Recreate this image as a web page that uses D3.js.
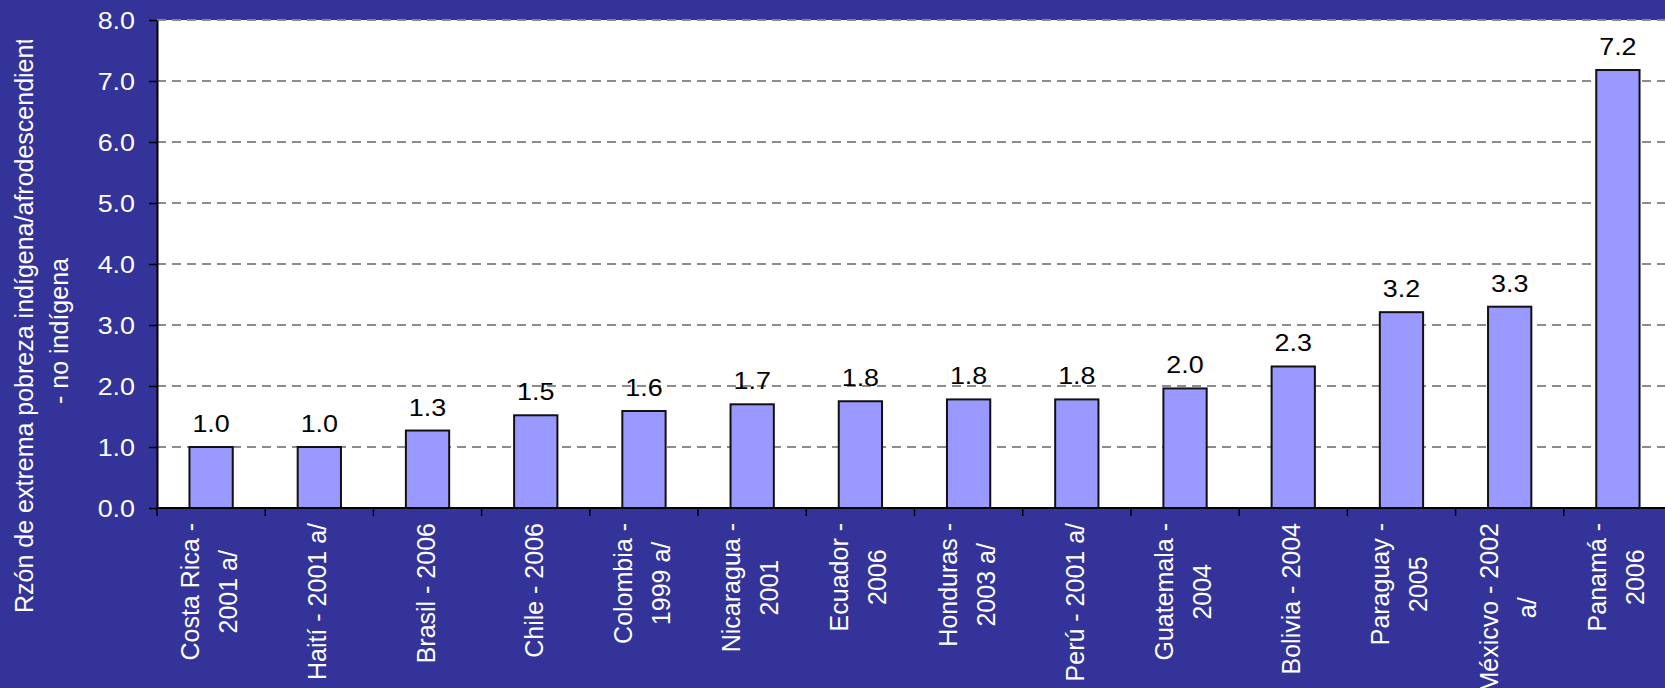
<!DOCTYPE html>
<html>
<head>
<meta charset="utf-8">
<script src="https://cdn.jsdelivr.net/npm/d3@7"></script>
<style>
  html, body { margin: 0; padding: 0; background: #333399; overflow: hidden; }
  text { font-family: "Liberation Sans", Arial, sans-serif; }
</style>
</head>
<body>
<div id="chart"></div>
<script>
const width = 1665, height = 688;

// Countries / years, as shown on the axis
const categories = [
    "Costa Rica - 2001 a/", "Haití - 2001 a/", "Brasil - 2006", "Chile - 2006",
    "Colombia - 1999 a/", "Nicaragua - 2001", "Ecuador - 2006", "Honduras - 2003 a/",
    "Perú - 2001 a/", "Guatemala - 2004", "Bolivia - 2004", "Paraguay - 2005",
    "Méxicvo - 2002 a/", "Panamá - 2006"
];

// How each axis label wraps
const labelLines = [
    ["Costa Rica -", "2001 a/"], ["Haití - 2001 a/"], ["Brasil - 2006"], ["Chile - 2006"],
    ["Colombia -", "1999 a/"], ["Nicaragua -", "2001"], ["Ecuador -", "2006"], ["Honduras -", "2003 a/"],
    ["Perú - 2001 a/"], ["Guatemala -", "2004"], ["Bolivia - 2004"], ["Paraguay -", "2005"],
    ["Méxicvo - 2002", "a/"], ["Panamá -", "2006"]
];

// Ratio of extreme poverty, indigenous vs non indigenous
const ratios = [1.0, 1.0, 1.27, 1.52, 1.59, 1.70, 1.75, 1.78, 1.78, 1.96, 2.32, 3.21, 3.30, 7.18];

const yTicks = [0, 1, 2, 3, 4, 5, 6, 7, 8];
const yTitle = ["Rzón de extrema pobreza indígena/afrodescendiente", "- no indígena"];

const margin = { left: 157, top: 20, bottom: 508, right: 1672 };

let svg = d3.select('#chart')
    .append('svg')
      .attr('width', width)
      .attr('height', height);

svg.append('rect')
    .attr('width', width).attr('height', height)
    .attr('fill', '#333399');

const y = d3.scaleLinear().domain([0, 8]).range([margin.bottom, margin.top]);

// slots (tick boundaries) and bars
const xSlot = d3.scaleBand().domain(categories).range([margin.left, margin.right]).padding(0);
const x = d3.scaleBand().domain(categories).range([margin.left, margin.right])
    .paddingInner(0.6).paddingOuter(0.3);

// plot area
svg.append('rect')
    .attr('x', margin.left).attr('y', margin.top)
    .attr('width', width - margin.left).attr('height', margin.bottom - margin.top)
    .attr('fill', '#fff');

// dashed gridlines
svg.append('g')
    .selectAll('line')
    .data(yTicks.filter(d => d > 0))
    .enter()
    .append('line')
      .attr('x1', margin.left).attr('x2', width)
      .attr('y1', d => y(d)).attr('y2', d => y(d))
      .attr('stroke', d => d === 8 ? '#888' : '#1a1a1a')
      .attr('stroke-width', d => d === 8 ? 2 : 1.1)
      .attr('stroke-dasharray', '9,6');

// bars
svg.append('g')
    .selectAll('rect')
    .data(ratios)
    .enter()
    .append('rect')
      .attr('x', (d, i) => x(categories[i]))
      .attr('y', d => y(d))
      .attr('width', x.bandwidth())
      .attr('height', d => y(0) - y(d))
      .attr('fill', '#9999ff')
      .attr('stroke', '#111')
      .attr('stroke-width', 2);

// value labels
svg.append('g')
    .selectAll('text')
    .data(ratios)
    .enter()
    .append('text')
      .attr('transform', (d, i) =>
          `translate(${x(categories[i]) + x.bandwidth() / 2},${y(d) - 15}) scale(1.12,1)`)
      .attr('text-anchor', 'middle')
      .attr('font-size', 24)
      .attr('fill', '#000')
      .text(d => d3.format('.1f')(d));

// y axis
let yAxis = svg.append('g')
    .attr('transform', `translate(${margin.left},0)`)
    .call(d3.axisLeft(y).tickValues(yTicks).tickSize(8).tickSizeOuter(0).tickFormat(d3.format('.1f')));
yAxis.select('.domain').attr('stroke', '#000').attr('stroke-width', 2);
yAxis.selectAll('.tick line').attr('stroke', '#000').attr('stroke-width', 1.5);
yAxis.selectAll('.tick text')
    .attr('x', null).attr('dy', null)
    .attr('transform', 'translate(-22,8) scale(1.12,1)')
    .attr('font-size', 24)
    .attr('font-family', '"Liberation Sans", Arial, sans-serif')
    .attr('fill', '#fff');

// x axis line + ticks at slot boundaries
svg.append('line')
    .attr('x1', margin.left).attr('x2', width)
    .attr('y1', y(0)).attr('y2', y(0))
    .attr('stroke', '#000').attr('stroke-width', 2);

svg.append('g')
    .selectAll('line')
    .data(categories)
    .enter()
    .append('line')
      .attr('x1', d => xSlot(d)).attr('x2', d => xSlot(d))
      .attr('y1', y(0)).attr('y2', y(0) + 8)
      .attr('stroke', '#000').attr('stroke-width', 1.5);

// rotated category labels
let labels = svg.append('g')
    .selectAll('g')
    .data(labelLines)
    .enter()
    .append('g')
      .attr('transform', (d, i) =>
          `translate(${xSlot(categories[i]) + xSlot.bandwidth() / 2},523) rotate(-90)`);

labels.each(function (lines) {
    let g = d3.select(this);
    let texts = lines.map((t, j) => g.append('text')
        .attr('text-anchor', 'middle')
        .attr('font-size', 25)
        .attr('fill', '#fff')
        .attr('y', 7 + (j - (lines.length - 1) / 2) * 38)
        .text(t));
    let maxLen = d3.max(texts, t => t.node().getComputedTextLength());
    texts.forEach(t => t.attr('x', -maxLen / 2));
});

// y axis title (clipped at the top like the original)
svg.append('clipPath').attr('id', 'titleClip')
    .append('rect').attr('x', 0).attr('y', 40).attr('width', 95).attr('height', height);

let title = svg.append('g').attr('clip-path', 'url(#titleClip)');
title.append('text')
    .attr('transform', 'translate(33,613) rotate(-90)')
    .attr('text-anchor', 'start')
    .attr('font-size', 25)
    .attr('fill', '#fff')
    .text(yTitle[0]);
title.append('text')
    .attr('transform', 'translate(68,331) rotate(-90)')
    .attr('text-anchor', 'middle')
    .attr('font-size', 25)
    .attr('fill', '#fff')
    .text(yTitle[1]);
</script>
</body>
</html>
